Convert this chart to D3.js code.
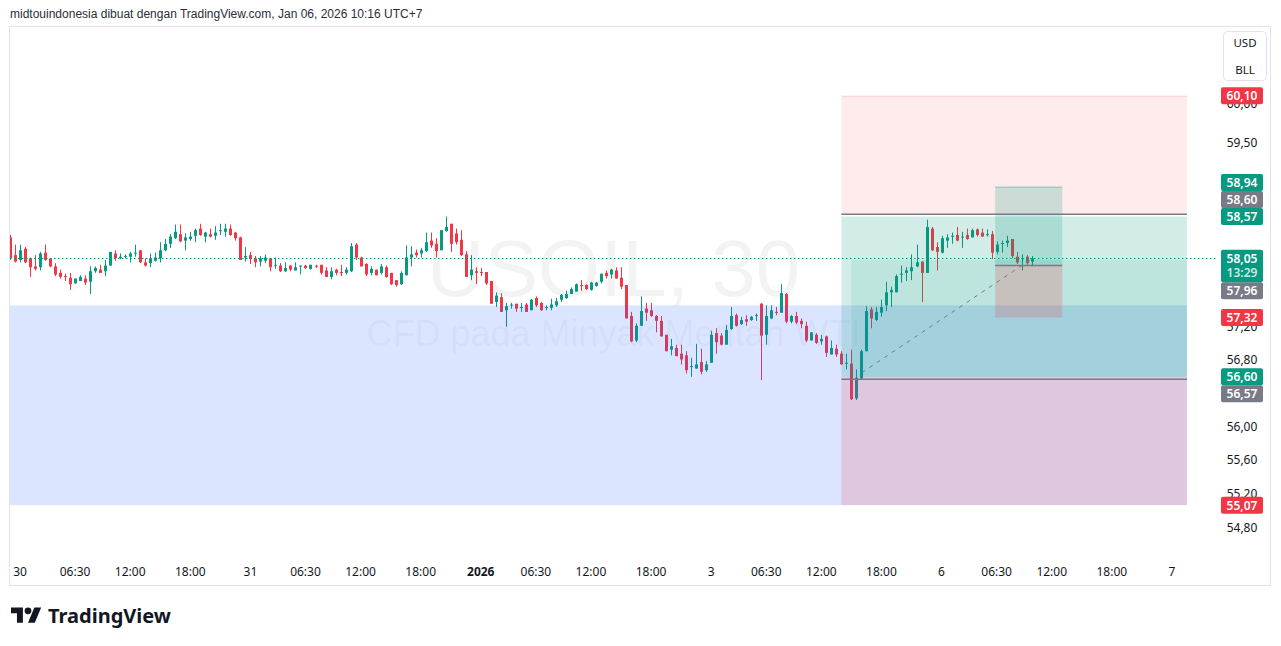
<!DOCTYPE html>
<html lang="en">
<head>
<meta charset="utf-8">
<script src="https://d3js.org/d3.v7.min.js"></script>
<style>
  body { margin: 0; background: #fff; }
  svg text { font-family: "Noto Sans", "DejaVu Sans", sans-serif; }
</style>
</head>
<body>
<svg id="chart" width="1281" height="646"></svg>
<script>
// USOIL 30m bars, UTC+7. index 0 = Dec 29 23:30, 203 = Jan 6 10:00 (the -1 bar is cut by the left edge)
const firstIdx = -1;
const opens = [58.31,58.09,58.03,58.17,58.05,57.95,57.94,58.12,58.05,57.95,57.87,57.83,57.81,57.74,57.77,57.80,57.76,57.89,57.91,57.89,57.96,
  58.11,58.05,58.07,58.07,58.11,58.15,58.00,57.99,58.02,58.05,58.15,58.23,58.30,58.35,58.27,58.29,58.33,58.42,58.32,58.35,
  58.33,58.39,58.38,58.42,58.37,58.31,58.06,58.09,58.05,58.01,58.02,58.05,57.96,57.96,57.89,57.96,57.90,57.95,57.96,57.92,
  57.96,57.97,57.90,57.82,57.91,57.88,57.87,57.89,58.22,58.06,57.98,57.87,57.91,57.87,57.94,57.87,57.78,57.73,57.84,58.06,
  58.12,58.11,58.14,58.27,58.23,58.15,58.39,58.48,58.36,58.28,58.10,57.84,57.89,57.88,57.88,57.77,57.51,57.57,57.41,57.47,
  57.49,57.44,57.48,57.41,57.56,57.50,57.44,57.44,57.47,57.54,57.56,57.61,57.64,57.72,57.72,57.66,57.71,57.76,57.87,57.85,
  57.90,57.81,57.72,57.34,57.04,57.22,57.43,57.41,57.34,57.28,57.11,56.93,56.95,56.88,56.86,56.72,56.70,56.78,56.68,56.77,
  57.13,57.10,56.99,57.18,57.35,57.24,57.30,57.29,57.34,57.49,57.11,57.31,57.39,57.38,57.61,57.27,57.34,57.28,57.22,57.04,
  57.11,57.03,57.09,56.87,56.94,56.88,56.76,56.76,56.34,56.58,56.91,57.42,57.29,57.38,57.47,57.63,57.63,57.85,57.87,57.89,
  57.95,58.01,57.87,58.42,58.19,58.12,58.27,58.32,58.34,58.31,58.34,58.31,58.41,58.37,58.34,58.35,58.13,58.23,58.24,58.29,
  58.07,58.04,58.07,58.01];
const highs = [58.34,58.22,58.22,58.19,58.06,58.09,58.13,58.22,58.05,57.99,57.91,57.86,57.87,57.80,57.84,57.84,57.95,57.95,57.97,58.03,58.13,
  58.15,58.11,58.10,58.13,58.22,58.15,58.05,58.11,58.12,58.25,58.29,58.35,58.47,58.47,58.36,58.38,58.42,58.48,58.38,58.42,
  58.45,58.48,58.48,58.47,58.38,58.32,58.19,58.13,58.08,58.08,58.10,58.05,58.06,57.99,58.00,57.97,58.00,57.96,57.97,57.97,
  57.97,57.97,57.94,57.94,57.92,57.97,57.94,58.24,58.24,58.07,57.99,57.95,57.91,57.98,57.96,57.87,57.78,57.89,58.21,58.20,
  58.16,58.18,58.37,58.37,58.30,58.40,58.57,58.48,58.42,58.40,58.14,58.09,57.94,57.93,57.88,57.77,57.63,57.62,57.50,57.50,
  57.49,57.50,57.50,57.55,57.58,57.51,57.47,57.55,57.56,57.61,57.65,57.69,57.74,57.78,57.73,57.76,57.76,57.86,57.90,57.92,
  57.94,57.94,57.72,57.39,57.25,57.58,57.50,57.50,57.35,57.34,57.11,57.06,56.99,56.99,56.91,56.83,57.00,56.94,56.79,57.16,
  57.19,57.13,57.23,57.45,57.37,57.33,57.35,57.34,57.37,57.50,57.47,57.47,57.45,57.73,57.62,57.35,57.39,57.31,57.27,57.14,
  57.13,57.11,57.10,57.04,56.99,56.91,56.88,56.93,56.69,56.93,57.46,57.45,57.45,57.54,57.76,57.70,57.85,57.96,57.94,58.10,
  58.22,58.01,58.53,58.44,58.25,58.33,58.35,58.37,58.44,58.38,58.42,58.42,58.42,58.42,58.41,58.39,58.26,58.27,58.33,58.29,
  58.13,58.10,58.09,58.08];
const lows = [58.03,58.00,58.00,57.99,57.82,57.90,57.90,58.02,57.94,57.83,57.80,57.77,57.66,57.74,57.77,57.72,57.61,57.87,57.87,57.83,57.96,
  58.02,58.04,58.05,58.00,58.07,57.99,57.95,57.94,58.01,58.00,58.14,58.18,58.29,58.25,58.15,58.27,58.25,58.33,58.25,58.31,
  58.28,58.34,58.32,58.33,58.27,58.03,58.01,57.98,57.94,57.95,57.99,57.89,57.92,57.88,57.88,57.89,57.90,57.85,57.92,57.91,
  57.93,57.85,57.82,57.79,57.84,57.83,57.85,57.88,58.03,57.95,57.83,57.84,57.84,57.85,57.81,57.72,57.70,57.72,57.84,57.95,
  58.06,58.06,58.13,58.18,58.06,58.15,58.38,58.13,58.22,58.08,57.82,57.78,57.73,57.83,57.72,57.49,57.45,57.39,57.21,57.43,
  57.39,57.39,57.39,57.41,57.45,57.40,57.41,57.41,57.45,57.51,57.55,57.61,57.64,57.65,57.66,57.65,57.70,57.74,57.80,57.80,
  57.80,57.67,57.31,57.02,57.02,57.22,57.28,57.33,57.14,57.09,56.91,56.86,56.85,56.75,56.64,56.60,56.70,56.63,56.66,56.77,
  56.88,56.98,56.99,57.17,57.21,57.23,57.22,57.28,57.28,56.56,56.99,57.30,57.35,57.38,57.25,57.25,57.24,57.19,57.02,57.04,
  57.00,56.99,56.84,56.87,56.84,56.75,56.69,56.32,56.32,56.56,56.91,57.19,57.28,57.33,57.40,57.45,57.63,57.75,57.77,57.78,
  57.94,57.51,57.87,58.14,57.90,58.11,58.18,58.23,58.26,58.18,58.28,58.31,58.32,58.32,58.32,58.04,58.10,58.12,58.19,58.05,
  57.98,57.90,57.97,57.95];
const closes = [58.05,58.01,58.15,58.00,57.94,57.92,58.11,58.03,57.95,57.85,57.82,57.82,57.73,57.80,57.82,57.75,57.89,57.93,57.87,57.96,58.13,
  58.05,58.07,58.08,58.11,58.12,58.00,57.96,58.05,58.06,58.15,58.23,58.32,58.38,58.26,58.31,58.32,58.40,58.34,58.37,58.32,
  58.37,58.40,58.42,58.34,58.30,58.03,58.08,58.04,58.00,58.05,58.06,57.94,57.97,57.89,57.93,57.91,57.94,57.96,57.93,57.97,
  57.95,57.87,57.82,57.89,57.87,57.87,57.91,58.20,58.06,57.95,57.85,57.92,57.84,57.95,57.82,57.73,57.72,57.87,58.06,58.10,
  58.09,58.15,58.25,58.21,58.14,58.40,58.44,58.23,58.25,58.09,57.82,57.91,57.87,57.87,57.74,57.49,57.59,57.39,57.46,57.48,
  57.43,57.45,57.39,57.54,57.47,57.41,57.45,57.48,57.52,57.60,57.61,57.67,57.73,57.71,57.67,57.75,57.75,57.86,57.83,57.91,
  57.80,57.70,57.31,57.03,57.22,57.40,57.38,57.34,57.28,57.09,56.91,56.97,56.85,56.81,56.68,56.73,56.75,56.66,56.75,57.11,
  57.02,56.99,57.17,57.34,57.22,57.29,57.27,57.33,57.35,57.10,57.34,57.41,57.38,57.62,57.27,57.34,57.26,57.24,57.04,57.14,
  57.01,57.06,56.89,56.95,56.87,56.75,56.77,56.33,56.59,56.91,57.40,57.31,57.39,57.45,57.63,57.66,57.83,57.86,57.90,57.94,
  58.00,57.87,58.44,58.15,58.13,58.30,58.31,58.33,58.27,58.32,58.29,58.40,58.34,58.32,58.35,58.12,58.22,58.24,58.27,58.08,
  58.00,58.05,57.99,58.05];

// time axis labels, by bar index
const timeTickIdx = [1, 12, 23, 35, 47, 58, 69, 81, 93, 104, 115, 127, 139, 150, 161, 173, 185, 196, 207, 219, 231];
const timeTickText = ["30","06:30","12:00","18:00","31","06:30","12:00","18:00","2026","06:30","12:00","18:00",
  "3","06:30","12:00","18:00","6","06:30","12:00","18:00","7"];

// price axis labels that are visible (log scale)
const priceTicks = [60.00, 59.50, 57.20, 56.80, 56.00, 55.60, 55.20, 54.80];

const lastPrice = 58.05;
const countdown = "13:29";

// drawings
const zoneBox = {i0: -1, i1: 234, top: 57.47, bottom: 55.07};
const stopBox = {i0: 165, i1: 234, top: 60.10, bottom: 58.60};
const bigLong = {i0: 165, i1: 234, target: 58.57, entry: 56.60, stop: 55.07};
const innerBox = {i0: 167, i1: 234, top: 58.03, bottom: 56.60};
const rangeLines = [58.60, 56.57];
const smallLong = {i0: 195.7, i1: 209.1, target: 58.94, entry: 57.96, stop: 57.32};
const trendDash = [{i: 169.1, p: 56.65}, {i: 202.7, p: 58.03}];

// right-side price badges: [price, colour, priority]
const badges = [
  {p: 60.10, c: "#f23645", pr: 1},
  {p: 58.57, c: "#089981", pr: 2},
  {p: 57.32, c: "#f23645", pr: 3},
  {p: 56.60, c: "#089981", pr: 4},
  {p: 55.07, c: "#f23645", pr: 5},
  {p: 58.60, c: "#787b86", pr: 6},
  {p: 57.96, c: "#787b86", pr: 7},
  {p: 56.57, c: "#787b86", pr: 8},
  {p: 58.94, c: "#089981", pr: 9}
];

const UP = "#089981", DOWN = "#f23645";
const plot = {left: 10, right: 1217, top: 28, bottom: 555};

const svg = d3.select("#chart");
const x = d3.scaleLinear().domain([-1, 240]).range([plot.left, plot.right]);
const y = d3.scaleLog().domain([60.976, 54.487]).range([plot.top, plot.bottom]);
const fmt = v => d3.format(".2f")(v).replace(".", ",");

// header
svg.append("text").attr("x", 10).attr("y", 18).attr("font-size", 12).attr("fill", "#2a2e39")
  .style("font-family", "'Liberation Sans', Arial, sans-serif")
  .text("midtouindonesia dibuat dengan TradingView.com, Jan 06, 2026 10:16 UTC+7");

// frame
svg.append("rect").attr("x", 9.5).attr("y", 26.5).attr("width", 1261).attr("height", 559)
  .attr("fill", "#fff").attr("stroke", "#e0e3eb");

svg.append("clipPath").attr("id", "plotclip").append("rect")
  .attr("x", plot.left).attr("y", plot.top).attr("width", plot.right - plot.left).attr("height", plot.bottom - plot.top);
const g = svg.append("g").attr("clip-path", "url(#plotclip)");

// watermark
const cx = (plot.left + plot.right) / 2;
g.append("text").attr("x", cx).attr("y", 296).attr("text-anchor", "middle")
  .attr("font-size", 80).attr("fill", "#131722").attr("fill-opacity", 0.05)
  .style("font-family", "'Liberation Sans', Arial, sans-serif").text("USOIL, 30");
g.append("text").attr("x", cx).attr("y", 346).attr("text-anchor", "middle")
  .attr("font-size", 36).attr("fill", "#131722").attr("fill-opacity", 0.05)
  .style("font-family", "'Liberation Sans', Arial, sans-serif").text("CFD pada Minyak Mentah WTI");

// candles
const bars = closes.map((c, k) => ({i: firstIdx + k, o: opens[k], h: highs[k], l: lows[k], c: c}));
const cg = g.append("g");
bars.forEach(d => {
  const px = Math.round(x(d.i));
  const col = d.c >= d.o ? UP : DOWN;
  cg.append("rect").attr("x", px).attr("width", 1)
    .attr("y", y(d.h)).attr("height", Math.max(1, y(d.l) - y(d.h))).attr("fill", col);
  const top = y(Math.max(d.o, d.c)), bot = y(Math.min(d.o, d.c));
  cg.append("rect").attr("x", px - 1).attr("width", 3)
    .attr("y", top).attr("height", Math.max(1, bot - top)).attr("fill", col);
});

// drawings
function box(i0, i1, p0, p1, fill, op) {
  return g.append("rect").attr("x", x(i0)).attr("width", x(i1) - x(i0))
    .attr("y", y(p0)).attr("height", y(p1) - y(p0)).attr("fill", fill).attr("fill-opacity", op);
}
box(zoneBox.i0 - 1, zoneBox.i1, zoneBox.top, zoneBox.bottom, "#2962ff", 0.17);
box(stopBox.i0, stopBox.i1, stopBox.top, stopBox.bottom, "#f23645", 0.1);
g.append("line").attr("x1", x(stopBox.i0)).attr("x2", x(stopBox.i1))
  .attr("y1", y(stopBox.top) + 0.5).attr("y2", y(stopBox.top) + 0.5).attr("stroke", "#f23645").attr("stroke-opacity", 0.15);
box(bigLong.i0, bigLong.i1, bigLong.target, bigLong.entry, "#089981", 0.18);
box(bigLong.i0, bigLong.i1, bigLong.entry, bigLong.stop, "#f23645", 0.17);
box(innerBox.i0, innerBox.i1, innerBox.top, innerBox.bottom, "#089981", 0.1);
box(smallLong.i0, smallLong.i1, smallLong.target, smallLong.entry, "#089981", 0.2);
box(smallLong.i0, smallLong.i1, smallLong.entry, smallLong.stop, "#f23645", 0.2);
[smallLong.target].forEach(p => g.append("line").attr("x1", x(smallLong.i0)).attr("x2", x(smallLong.i1))
  .attr("y1", y(p)).attr("y2", y(p)).attr("stroke", "#089981").attr("stroke-opacity", 0.4));
g.append("line").attr("x1", x(smallLong.i0)).attr("x2", x(smallLong.i1))
  .attr("y1", y(smallLong.entry)).attr("y2", y(smallLong.entry)).attr("stroke", "#787b86").attr("stroke-width", 1.5);
rangeLines.forEach(p => g.append("line").attr("x1", x(bigLong.i0)).attr("x2", x(bigLong.i1))
  .attr("y1", y(p)).attr("y2", y(p)).attr("stroke", "#787b86").attr("stroke-width", 1.5));
g.append("line").attr("x1", x(trendDash[0].i)).attr("y1", y(trendDash[0].p))
  .attr("x2", x(trendDash[1].i)).attr("y2", y(trendDash[1].p))
  .attr("stroke", "#787b86").attr("stroke-width", 1).attr("stroke-dasharray", "4 5");

// last price line
svg.append("line").attr("x1", plot.left).attr("x2", plot.right)
  .attr("y1", Math.round(y(lastPrice)) + 0.5).attr("y2", Math.round(y(lastPrice)) + 0.5)
  .attr("stroke", UP).attr("stroke-width", 1).attr("stroke-dasharray", "1.5 2.5");

// time axis
const tg = svg.append("g");
timeTickIdx.forEach((t, k) => {
  tg.append("text").attr("x", x(t)).attr("y", 576).attr("text-anchor", "middle")
    .attr("font-size", 12).attr("fill", "#131722")
    .attr("font-weight", timeTickText[k] === "2026" ? 700 : 400).text(timeTickText[k]);
});

// price axis
const ag = svg.append("g");
const axisX = 1242;
priceTicks.forEach(p => {
  ag.append("text").attr("x", axisX).attr("y", y(p) + 4).attr("text-anchor", "middle")
    .attr("font-size", 12).attr("fill", "#131722").text(fmt(p));
});

// USD / BLL box
ag.append("rect").attr("x", 1223.5).attr("y", 31.5).attr("width", 43).attr("height", 49).attr("rx", 4)
  .attr("fill", "#fff").attr("stroke", "#e0e3eb");
ag.append("text").attr("x", 1245).attr("y", 47).attr("text-anchor", "middle").attr("font-size", 11.5).attr("fill", "#131722").text("USD");
ag.append("text").attr("x", 1245).attr("y", 74).attr("text-anchor", "middle").attr("font-size", 11.5).attr("fill", "#131722").text("BLL");

// badge layout: last price first (tall), then others in priority order
const BH = 17;
const placed = [{c: y(lastPrice), t: y(lastPrice) - BH / 2, b: y(lastPrice) + 24}];
function overlaps(t, b) { return placed.find(q => t < q.b && b > q.t); }
const laid = badges.slice().sort((a, b) => a.pr - b.pr).map(d => {
  let c = y(d.p);
  let hit = overlaps(c - BH / 2, c + BH / 2);
  let guard = 0;
  while (hit && guard++ < 10) {
    c = c < hit.c ? hit.t - BH / 2 : hit.b + BH / 2;
    hit = overlaps(c - BH / 2, c + BH / 2);
  }
  placed.push({c: c, t: c - BH / 2, b: c + BH / 2});
  return Object.assign({cy: c}, d);
});
laid.forEach(d => {
  ag.append("rect").attr("x", 1221).attr("y", d.cy - BH / 2).attr("width", 42).attr("height", BH)
    .attr("rx", 2).attr("fill", d.c);
  ag.append("text").attr("x", axisX).attr("y", d.cy + 4.5).attr("text-anchor", "middle")
    .attr("font-size", 12).attr("font-weight", 600).attr("fill", "#fff").text(fmt(d.p));
});
const ly = y(lastPrice);
ag.append("rect").attr("x", 1221).attr("y", ly - BH / 2).attr("width", 42).attr("height", BH / 2 + 24)
  .attr("rx", 2).attr("fill", UP);
ag.append("text").attr("x", axisX).attr("y", ly + 4.5).attr("text-anchor", "middle")
  .attr("font-size", 12).attr("font-weight", 600).attr("fill", "#fff").text(fmt(lastPrice));
ag.append("text").attr("x", axisX).attr("y", ly + 19).attr("text-anchor", "middle")
  .attr("font-size", 12).attr("font-weight", 600).attr("fill", "#fff").attr("fill-opacity", 0.8).text(countdown);

// TradingView logo
const lg = svg.append("g").attr("transform", "translate(11,604) scale(0.85)");
lg.append("path").attr("d", "M14 22H7V11H0V4h14v18zM28 22h-8l7.5-18h8L28 22z").attr("fill", "#131722");
lg.append("circle").attr("cx", 20).attr("cy", 8).attr("r", 4).attr("fill", "#131722");
svg.append("text").attr("x", 48).attr("y", 623).attr("font-size", 20).attr("font-weight", 700)
  .attr("fill", "#131722").text("TradingView");
</script>
</body>
</html>
